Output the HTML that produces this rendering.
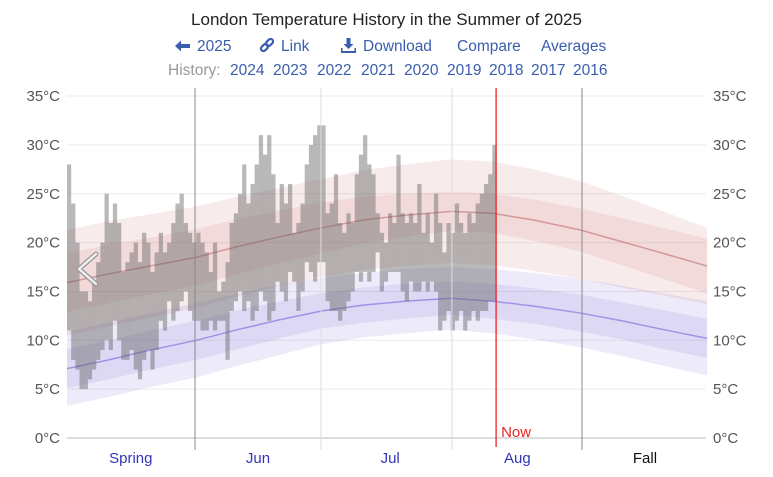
<!DOCTYPE html>
<html><head><meta charset="utf-8">
<style>
body{margin:0;background:#fff;font-family:"Liberation Sans",sans-serif;}
#wrap{position:relative;width:773px;height:477px;overflow:hidden;}
.t{position:absolute;white-space:nowrap;font-size:15.5px;}
a{color:#3a5dae;text-decoration:none;}
</style></head><body>
<div id="wrap">
<div class="t" style="left:0;width:773px;text-align:center;top:10px;font-size:17px;color:#222;">London Temperature History in the Summer of 2025</div>
<svg style="position:absolute;left:174px;top:39px" width="17" height="14"><path d="M1 7 L7 1.5 L7 5 L16 5 L16 9 L7 9 L7 12.5 Z" fill="#3a5dae"/></svg>
<a class="t" style="top:38px;left:197px;">2025</a>
<svg style="position:absolute;left:259px;top:38px" width="16" height="16"><g fill="none" stroke="#3a5dae" stroke-width="2.2"><rect x="1.5" y="7" width="8" height="5" rx="2.5" transform="rotate(-45 5.5 9.5)"/><rect x="6.5" y="2" width="8" height="5" rx="2.5" transform="rotate(-45 10.5 4.5)"/></g></svg>
<a class="t" style="top:38px;left:281px;">Link</a>
<svg style="position:absolute;left:341px;top:38px" width="15" height="15"><path d="M5.5 0 H9.5 V6 H12.5 L7.5 11 L2.5 6 H5.5 Z" fill="#3a5dae"/><path d="M0.5 10 V14 H14.5 V10" fill="none" stroke="#3a5dae" stroke-width="2"/></svg>
<a class="t" style="top:38px;left:363px;">Download</a>
<a class="t" style="top:38px;left:457px;">Compare</a>
<a class="t" style="top:38px;left:541px;">Averages</a>
<div class="t" style="top:62px;left:168px;color:#999;">History:</div>
<a class="t" style="top:62px;left:230px">2024</a>
<a class="t" style="top:62px;left:273px">2023</a>
<a class="t" style="top:62px;left:317px">2022</a>
<a class="t" style="top:62px;left:361px">2021</a>
<a class="t" style="top:62px;left:404px">2020</a>
<a class="t" style="top:62px;left:447px">2019</a>
<a class="t" style="top:62px;left:489px">2018</a>
<a class="t" style="top:62px;left:531px">2017</a>
<a class="t" style="top:62px;left:573px">2016</a>
<svg id="svg" width="773" height="477" style="position:absolute;left:0;top:0;"></svg>
</div>
<script>
const bandDays=[0,10,20,31,41,51,61,71,81,92,102,112,123,133,143,153.5];
const redMean=[15.9,16.8,17.6,18.5,19.6,20.6,21.5,22.3,22.8,23.2,23.0,22.3,21.3,20.1,18.9,17.6];
const redIn=[3.0,3.0,2.9,2.9,2.8,2.7,2.6,2.4,2.2,2.0,2.0,2.1,2.2,2.4,2.6,2.8];
const redOut=[5.4,5.4,5.3,5.2,5.1,5.0,5.0,5.1,5.2,5.3,5.3,5.2,5.0,4.7,4.3,3.9];
const blueMean=[7.1,8.0,9.0,10.0,11.1,12.1,13.0,13.6,14.0,14.3,14.0,13.5,12.8,12.0,11.1,10.2];
const blueIn=[2.0,2.0,2.0,2.0,2.0,1.9,1.8,1.8,1.8,1.7,1.8,1.8,1.9,1.9,2.0,2.0];
const blueOut=[3.8,3.8,3.8,3.8,3.7,3.6,3.4,3.3,3.3,3.2,3.3,3.4,3.5,3.6,3.7,3.8];
const highs=[28,24,20,15,15,14,16,18,20,25,22,24,22,17,18,19,20,18,21,20,17,19,21,19,20,22,24,25,22,21,20,
21,20,19,17,20,15,16,18,22,23,25,28,24,26,28,31,29,31,27,22,26,24,26,21,22,24,28,30,31,32,
32,23,24,27,22,21,23,22,27,29,31,28,27,23,21,20,23,22,29,23,22,23,22,26,21,23,20,25,22,19,22,
21,24,22,21,23,22,24,25,26,27,30];
const lows=[11,8,7,5,5,6,7,8,9,10,9,12,10,8,8,9,7,6,8,9,7,9,12,11,14,12,13,14,15,13,12,
12,11,11,12,11,12,12,8,13,14,15,13,14,12,13,15,14,12,13,16,15,14,17,16,13,15,18,17,16,18,
18,14,13,13,12,13,14,15,17,16,17,16,17,19,15,16,17,17,17,15,14,16,15,15,16,15,16,15,11,12,13,
11,12,13,11,12,13,12,13,13,14,14];
const yTicks=[0,5,10,15,20,25,30,35];
const months=[{n:"Spring",d:15.3,c:"#3333bb"},{n:"Jun",d:45.8,c:"#3333bb"},{n:"Jul",d:77.5,c:"#3333bb"},{n:"Aug",d:108,c:"#3333bb"},{n:"Fall",d:138.6,c:"#111"}];
const dividers=[{d:30.7,c:"#888"},{d:60.9,c:"#ddd"},{d:92.3,c:"#ddd"},{d:123.5,c:"#888"}];
const nowDay=102.9;

const X0=67,DX=4.17,Y0=438,DY=9.77;
const xs=d=>X0+d*DX, ys=t=>Y0-t*DY;
const svg=document.getElementById('svg');
const NS="http://www.w3.org/2000/svg";
function mk(tag,attrs){const e=document.createElementNS(NS,tag);for(const k in attrs)e.setAttribute(k,attrs[k]);svg.appendChild(e);return e;}
yTicks.forEach(t=>{
 const g=mk('line',{x1:X0,x2:706,y1:ys(t),y2:ys(t),stroke:t===0?'#bbb':'#ebebeb','stroke-width':1});
 
 
 const l=mk('text',{x:60,y:ys(t)+5,'text-anchor':'end','font-size':15,fill:'#555','font-family':'Liberation Sans, sans-serif'});
 l.textContent=t+'°C';
 
 
 const r=mk('text',{x:713,y:ys(t)+5,'font-size':15,fill:'#555','font-family':'Liberation Sans, sans-serif'});
 r.textContent=t+'°C';
 
 
});
function band(mean,w,fill,name){
 let pts=bandDays.map((d,i)=>xs(d)+','+ys(mean[i]+w[i]));
 let pts2=bandDays.map((d,i)=>xs(d)+','+ys(mean[i]-w[i])).reverse();
 const p=mk('polygon',{points:pts.concat(pts2).join(' '),fill:fill});
 
 
}
band(redMean,redOut,'rgba(205,120,120,0.15)','high-outer-band');
band(redMean,redIn,'rgba(205,120,120,0.15)','high-inner-band');
band(blueMean,blueOut,'rgba(130,110,220,0.14)','low-outer-band');
band(blueMean,blueIn,'rgba(130,110,220,0.14)','low-inner-band');
const rl=mk('polyline',{points:bandDays.map((d,i)=>xs(d)+','+ys(redMean[i])).join(' '),fill:'none',stroke:'rgba(190,110,110,0.6)','stroke-width':1.5});


const bl=mk('polyline',{points:bandDays.map((d,i)=>xs(d)+','+ys(blueMean[i])).join(' '),fill:'none',stroke:'rgba(120,100,220,0.6)','stroke-width':1.5});


highs.forEach((h,i)=>{
 const b=mk('rect',{x:xs(i),y:ys(h),width:DX+0.05,height:(h-lows[i])*DY,fill:'rgba(100,100,100,0.45)'});
 
 
});
dividers.forEach(v=>{
 const l=mk('line',{x1:xs(v.d),x2:xs(v.d),y1:88,y2:450,stroke:v.c,'stroke-width':1});
 
 
});
months.forEach(m=>{
 const t=mk('text',{x:xs(m.d),y:463,'text-anchor':'middle','font-size':15,fill:m.c,'font-family':'Liberation Sans, sans-serif'});
 t.textContent=m.n;
 
 
});
const nl=mk('line',{x1:xs(nowDay),x2:xs(nowDay),y1:88,y2:447,stroke:'#ee2222','stroke-width':1.3});


const nt=mk('text',{x:xs(nowDay)+5,y:437,'font-size':15,fill:'#ee2222','font-family':'Liberation Sans, sans-serif'});
nt.textContent='Now';


const arr=mk('polyline',{points:'96,254 79,269 96,284',fill:'none',stroke:'#999','stroke-width':5,'stroke-linecap':'round','stroke-linejoin':'round'});


const arr2=mk('polyline',{points:'96,254 79,269 96,284',fill:'none',stroke:'#eee','stroke-width':2.5,'stroke-linecap':'round','stroke-linejoin':'round'});


</script>
</body></html>
